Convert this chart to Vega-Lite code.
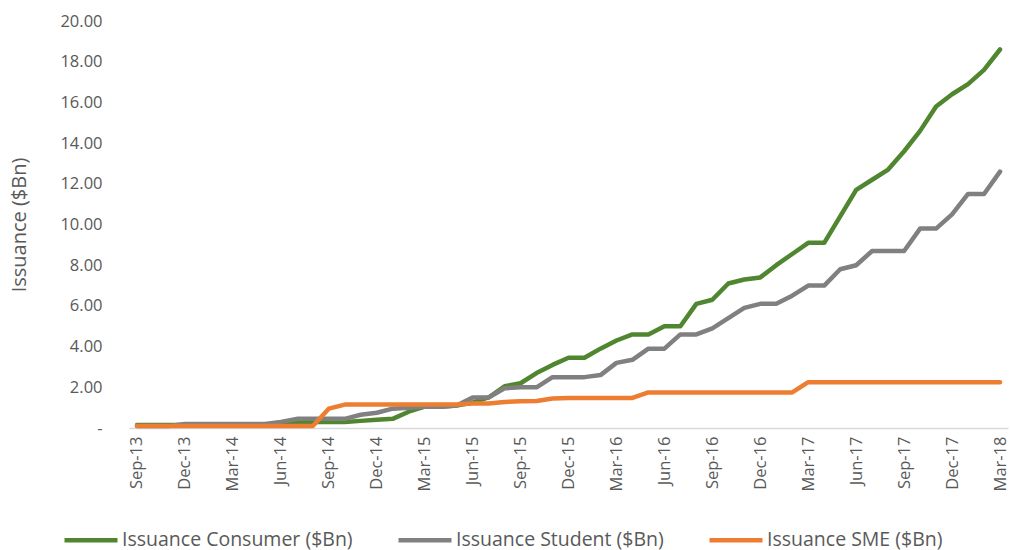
{
  "$schema": "https://vega.github.io/schema/vega-lite/v6.json",
  "width": 879,
  "height": 407,
  "autosize": {"type": "none"},
  "padding": {"left": 129, "top": 21, "right": 3, "bottom": 122},
  "background": "white",
  "config": {
    "view": {"stroke": null},
    "font": "Open Sans",
    "axis": {"labelFont": "Open Sans", "titleFont": "Open Sans", "labelColor": "#595959", "titleColor": "#595959"},
    "legend": {"labelFont": "Open Sans"}
  },
  "data": {
    "values": [
      {"m": "Sep-13", "Consumer": 0.15, "Student": 0.1, "SME": 0.1},
      {"m": "Oct-13", "Consumer": 0.15, "Student": 0.1, "SME": 0.1},
      {"m": "Nov-13", "Consumer": 0.15, "Student": 0.1, "SME": 0.1},
      {"m": "Dec-13", "Consumer": 0.15, "Student": 0.2, "SME": 0.1},
      {"m": "Jan-14", "Consumer": 0.15, "Student": 0.2, "SME": 0.1},
      {"m": "Feb-14", "Consumer": 0.15, "Student": 0.2, "SME": 0.1},
      {"m": "Mar-14", "Consumer": 0.15, "Student": 0.2, "SME": 0.1},
      {"m": "Apr-14", "Consumer": 0.15, "Student": 0.2, "SME": 0.1},
      {"m": "May-14", "Consumer": 0.15, "Student": 0.2, "SME": 0.1},
      {"m": "Jun-14", "Consumer": 0.2, "Student": 0.3, "SME": 0.1},
      {"m": "Jul-14", "Consumer": 0.3, "Student": 0.45, "SME": 0.1},
      {"m": "Aug-14", "Consumer": 0.3, "Student": 0.45, "SME": 0.1},
      {"m": "Sep-14", "Consumer": 0.3, "Student": 0.45, "SME": 0.95},
      {"m": "Oct-14", "Consumer": 0.3, "Student": 0.45, "SME": 1.15},
      {"m": "Nov-14", "Consumer": 0.35, "Student": 0.65, "SME": 1.15},
      {"m": "Dec-14", "Consumer": 0.4, "Student": 0.75, "SME": 1.15},
      {"m": "Jan-15", "Consumer": 0.45, "Student": 0.95, "SME": 1.15},
      {"m": "Feb-15", "Consumer": 0.8, "Student": 1.0, "SME": 1.15},
      {"m": "Mar-15", "Consumer": 1.05, "Student": 1.05, "SME": 1.15},
      {"m": "Apr-15", "Consumer": 1.05, "Student": 1.05, "SME": 1.15},
      {"m": "May-15", "Consumer": 1.1, "Student": 1.1, "SME": 1.15},
      {"m": "Jun-15", "Consumer": 1.25, "Student": 1.5, "SME": 1.2},
      {"m": "Jul-15", "Consumer": 1.5, "Student": 1.5, "SME": 1.2},
      {"m": "Aug-15", "Consumer": 2.05, "Student": 1.95, "SME": 1.28},
      {"m": "Sep-15", "Consumer": 2.2, "Student": 2.0, "SME": 1.32},
      {"m": "Oct-15", "Consumer": 2.7, "Student": 2.0, "SME": 1.33},
      {"m": "Nov-15", "Consumer": 3.1, "Student": 2.5, "SME": 1.45},
      {"m": "Dec-15", "Consumer": 3.45, "Student": 2.5, "SME": 1.48},
      {"m": "Jan-16", "Consumer": 3.45, "Student": 2.5, "SME": 1.48},
      {"m": "Feb-16", "Consumer": 3.9, "Student": 2.6, "SME": 1.48},
      {"m": "Mar-16", "Consumer": 4.3, "Student": 3.2, "SME": 1.48},
      {"m": "Apr-16", "Consumer": 4.6, "Student": 3.35, "SME": 1.48},
      {"m": "May-16", "Consumer": 4.6, "Student": 3.9, "SME": 1.75},
      {"m": "Jun-16", "Consumer": 5.0, "Student": 3.9, "SME": 1.75},
      {"m": "Jul-16", "Consumer": 5.0, "Student": 4.6, "SME": 1.75},
      {"m": "Aug-16", "Consumer": 6.1, "Student": 4.6, "SME": 1.75},
      {"m": "Sep-16", "Consumer": 6.3, "Student": 4.9, "SME": 1.75},
      {"m": "Oct-16", "Consumer": 7.1, "Student": 5.4, "SME": 1.75},
      {"m": "Nov-16", "Consumer": 7.3, "Student": 5.9, "SME": 1.75},
      {"m": "Dec-16", "Consumer": 7.4, "Student": 6.1, "SME": 1.75},
      {"m": "Jan-17", "Consumer": 8.0, "Student": 6.1, "SME": 1.75},
      {"m": "Feb-17", "Consumer": 8.55, "Student": 6.5, "SME": 1.75},
      {"m": "Mar-17", "Consumer": 9.1, "Student": 7.0, "SME": 2.25},
      {"m": "Apr-17", "Consumer": 9.1, "Student": 7.0, "SME": 2.25},
      {"m": "May-17", "Consumer": 10.4, "Student": 7.8, "SME": 2.25},
      {"m": "Jun-17", "Consumer": 11.7, "Student": 8.0, "SME": 2.25},
      {"m": "Jul-17", "Consumer": 12.2, "Student": 8.7, "SME": 2.25},
      {"m": "Aug-17", "Consumer": 12.7, "Student": 8.7, "SME": 2.25},
      {"m": "Sep-17", "Consumer": 13.6, "Student": 8.7, "SME": 2.25},
      {"m": "Oct-17", "Consumer": 14.6, "Student": 9.8, "SME": 2.25},
      {"m": "Nov-17", "Consumer": 15.8, "Student": 9.8, "SME": 2.25},
      {"m": "Dec-17", "Consumer": 16.4, "Student": 10.5, "SME": 2.25},
      {"m": "Jan-18", "Consumer": 16.9, "Student": 11.5, "SME": 2.25},
      {"m": "Feb-18", "Consumer": 17.6, "Student": 11.5, "SME": 2.25},
      {"m": "Mar-18", "Consumer": 18.6, "Student": 12.6, "SME": 2.25}
    ]
  },
  "transform": [
    {"fold": ["Consumer", "Student", "SME"], "as": ["series", "value"]}
  ],
  "mark": {"type": "line", "strokeWidth": 4.5, "strokeJoin": "round", "strokeCap": "round"},
  "encoding": {
    "x": {
      "field": "m",
      "type": "ordinal",
      "sort": null,
      "scale": {"type": "point", "padding": 0.5},
      "axis": {
        "title": null,
        "values": ["Sep-13", "Dec-13", "Mar-14", "Jun-14", "Sep-14", "Dec-14", "Mar-15", "Jun-15", "Sep-15", "Dec-15", "Mar-16", "Jun-16", "Sep-16", "Dec-16", "Mar-17", "Jun-17", "Sep-17", "Dec-17", "Mar-18"],
        "labelAngle": -90,
        "labelFontSize": 16.5,
        "labelPadding": 8,
        "ticks": false,
        "domainColor": "#d9d9d9",
        "domainWidth": 1.5,
        "grid": false
      }
    },
    "y": {
      "field": "value",
      "type": "quantitative",
      "scale": {"domain": [0, 20], "nice": false},
      "axis": {
        "title": "Issuance ($Bn)",
        "titleFontSize": 20,
        "titleFontWeight": "normal",
        "titlePadding": 30,
        "values": [0, 2, 4, 6, 8, 10, 12, 14, 16, 18, 20],
        "labelExpr": "datum.value == 0 ? '-' : format(datum.value, '.2f')",
        "labelFontSize": 16.5,
        "labelPadding": 27,
        "ticks": false,
        "domain": false,
        "grid": false
      }
    },
    "color": {
      "field": "series",
      "type": "nominal",
      "scale": {"domain": ["Consumer", "Student", "SME"], "range": ["#4f862f", "#808080", "#ed7d31"]},
      "legend": {
        "title": null,
        "orient": "none",
        "legendX": -67,
        "legendY": 490,
        "direction": "horizontal",
        "symbolType": "stroke",
        "symbolSize": 2809,
        "symbolStrokeWidth": 4.5,
        "labelFontSize": 19.5,
        "labelColor": "#595959",
        "labelOffset": 2,
        "columnPadding": 36,
        "labelLimit": 400,
        "labelExpr": "'Issuance ' + datum.label + ' ($Bn)'"
      }
    }
  }
}
